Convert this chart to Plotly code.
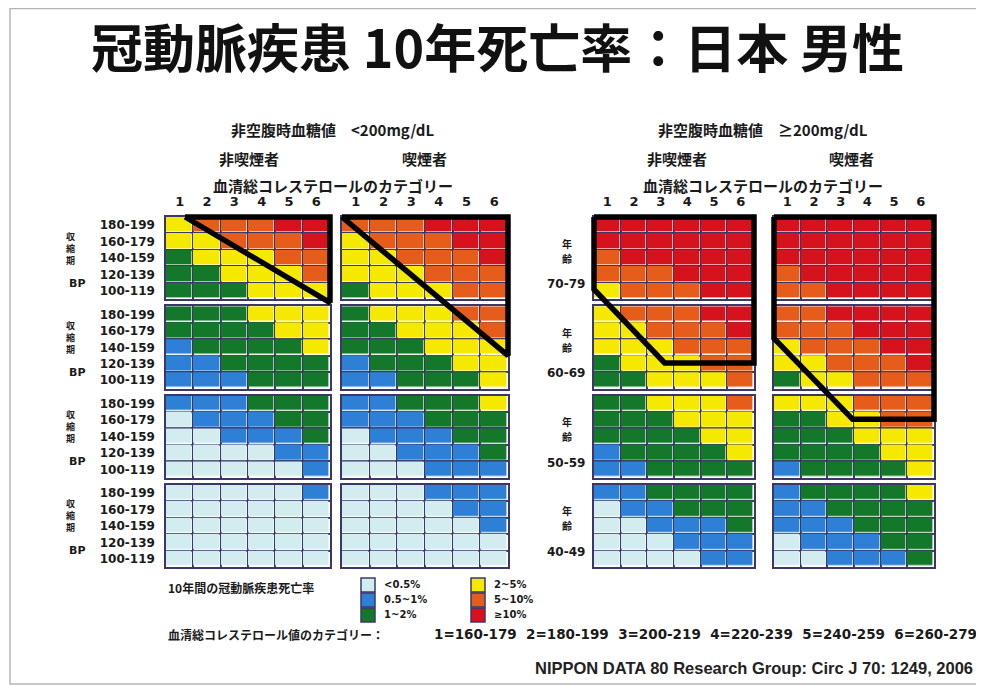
import plotly.graph_objects as go

# page offset: the browser body adds an 8px margin around the figure
OFF = 8
FIG_W, FIG_H = 976, 678

# ---------------- data ----------------
chol_cats = ["1", "2", "3", "4", "5", "6"]
chol_ranges = ["160-179", "180-199", "200-219", "220-239", "240-259", "260-279"]
bp_labels = ["180-199", "160-179", "140-159", "120-139", "100-119"]
age_labels = ["70-79", "60-69", "50-59", "40-49"]
risk_labels = ["<0.5%", "0.5~1%", "1~2%", "2~5%", "5~10%", "≥10%"]
risk_colors = ["#d3ecf0", "#2e7fd6", "#14782b", "#f6e900", "#e65c1b", "#d6131d"]

# risk category (0..5) per cell; rows = BP 180-199 .. 100-119, cols = cholesterol cat 1..6
# glucose <200 mg/dL, non-smoker
ns_lo_70 = [[3, 4, 4, 4, 5, 5], [3, 3, 4, 4, 4, 5], [2, 3, 3, 3, 4, 4], [2, 2, 3, 3, 3, 4], [2, 2, 2, 3, 3, 3]]
ns_lo_60 = [[2, 2, 2, 3, 3, 3], [2, 2, 2, 2, 3, 3], [1, 2, 2, 2, 2, 3], [1, 1, 2, 2, 2, 2], [1, 1, 1, 2, 2, 2]]
ns_lo_50 = [[1, 1, 1, 2, 2, 2], [0, 1, 1, 1, 2, 2], [0, 0, 1, 1, 1, 2], [0, 0, 0, 0, 1, 1], [0, 0, 0, 0, 0, 1]]
ns_lo_40 = [[0, 0, 0, 0, 0, 1], [0, 0, 0, 0, 0, 0], [0, 0, 0, 0, 0, 0], [0, 0, 0, 0, 0, 0], [0, 0, 0, 0, 0, 0]]
# glucose <200 mg/dL, smoker
sm_lo_70 = [[4, 4, 4, 5, 5, 5], [3, 4, 4, 4, 5, 5], [3, 3, 4, 4, 4, 5], [3, 3, 3, 4, 4, 4], [2, 3, 3, 3, 4, 4]]
sm_lo_60 = [[2, 3, 3, 3, 4, 4], [2, 2, 3, 3, 3, 4], [2, 2, 2, 3, 3, 3], [1, 2, 2, 2, 3, 3], [1, 1, 2, 2, 2, 3]]
sm_lo_50 = [[1, 1, 2, 2, 2, 3], [1, 1, 1, 2, 2, 2], [0, 1, 1, 1, 2, 2], [0, 0, 1, 1, 1, 2], [0, 0, 0, 1, 1, 1]]
sm_lo_40 = [[0, 0, 0, 1, 1, 1], [0, 0, 0, 0, 1, 1], [0, 0, 0, 0, 0, 1], [0, 0, 0, 0, 0, 0], [0, 0, 0, 0, 0, 0]]
# glucose >=200 mg/dL, non-smoker
ns_hi_70 = [[5, 5, 5, 5, 5, 5], [5, 5, 5, 5, 5, 5], [4, 5, 5, 5, 5, 5], [4, 4, 4, 5, 5, 5], [3, 4, 4, 4, 5, 5]]
ns_hi_60 = [[3, 4, 4, 4, 5, 5], [3, 3, 4, 4, 4, 5], [3, 3, 3, 4, 4, 4], [2, 3, 3, 3, 4, 4], [2, 2, 3, 3, 3, 4]]
ns_hi_50 = [[2, 2, 3, 3, 3, 4], [2, 2, 2, 3, 3, 3], [2, 2, 2, 2, 3, 3], [1, 2, 2, 2, 2, 3], [1, 1, 2, 2, 2, 2]]
ns_hi_40 = [[1, 1, 2, 2, 2, 2], [0, 1, 1, 2, 2, 2], [0, 0, 1, 1, 1, 2], [0, 0, 0, 1, 1, 1], [0, 0, 0, 0, 1, 1]]
# glucose >=200 mg/dL, smoker
sm_hi_70 = [[5, 5, 5, 5, 5, 5], [5, 5, 5, 5, 5, 5], [5, 5, 5, 5, 5, 5], [4, 5, 5, 5, 5, 5], [4, 4, 5, 5, 5, 5]]
sm_hi_60 = [[4, 4, 5, 5, 5, 5], [4, 4, 4, 5, 5, 5], [3, 4, 4, 4, 5, 5], [3, 3, 4, 4, 4, 5], [2, 3, 3, 4, 4, 4]]
sm_hi_50 = [[3, 3, 3, 4, 4, 4], [2, 2, 3, 3, 4, 4], [2, 2, 2, 3, 3, 3], [2, 2, 2, 2, 3, 3], [1, 2, 2, 2, 2, 3]]
sm_hi_40 = [[1, 2, 2, 2, 2, 3], [1, 1, 2, 2, 2, 2], [1, 1, 1, 2, 2, 2], [0, 1, 1, 1, 2, 2], [0, 0, 1, 1, 1, 2]]

# thick outline of the high-risk zone, vertices as (column edge 0-6, age block 0-3, row edge 0-5)
outline_ns_lo = [(0.7, 0, 0), (6, 0, 0), (6, 0, 5.2), (0.7, 0, 0)]
outline_sm_lo = [(0, 0, 0), (6, 0, 0), (6, 1, 3.0), (0, 0, 0)]
outline_ns_hi = [(0, 0, 0), (6, 0, 0), (6, 1, 3.45), (2.65, 1, 3.45), (0, 0, 4.4), (0, 0, 0)]
outline_sm_hi = [(0, 0, 0), (6, 0, 0), (6, 2, 1.45), (2.95, 2, 1.45), (0, 1, 1.95), (0, 0, 0)]

# ---------------- layout helpers ----------------
panels = [
    [ns_lo_70, ns_lo_60, ns_lo_50, ns_lo_40],
    [sm_lo_70, sm_lo_60, sm_lo_50, sm_lo_40],
    [ns_hi_70, ns_hi_60, ns_hi_50, ns_hi_40],
    [sm_hi_70, sm_hi_60, sm_hi_50, sm_hi_40],
]
outlines = [outline_ns_lo, outline_sm_lo, outline_ns_hi, outline_sm_hi]

PANEL_L = [166, 342, 594, 774]
PANEL_R = [330, 508, 754, 934]
BLOCK_TOP0 = 217
BLOCK_H = 82.25
BLOCK_GAP = 7
ROW_PX = BLOCK_H / 5
GAP_U = BLOCK_GAP / ROW_PX

NAVY = "#3b3868"
TXT = "#1a1a1a"
CJK = "Noto Sans CJK JP"
NUMF = "DejaVu Sans"


def fx(p):
    return (p - OFF) / FIG_W


def fy(p):
    return 1 - (p - OFF) / FIG_H


def block_top(b):
    return BLOCK_TOP0 + b * (BLOCK_H + BLOCK_GAP)


colorscale = []
for i, c in enumerate(risk_colors):
    colorscale.append([i / 6, c])
    colorscale.append([(i + 1) / 6, c])

fig = go.Figure()
layout = dict(
    width=FIG_W, height=FIG_H,
    margin=dict(l=0, r=0, t=0, b=0),
    paper_bgcolor="white", plot_bgcolor="rgba(0,0,0,0)",
    showlegend=False,
)

cols = list(range(1, 7))
rows = list(range(5))

idx = 0
for p in range(4):
    for b in range(4):
        idx += 1
        fig.add_trace(go.Heatmap(
            z=panels[p][b], x=cols, y=rows,
            colorscale=colorscale, zmin=-0.5, zmax=5.5, showscale=False,
            xgap=1.6, ygap=1.6, hoverinfo="skip",
            xaxis=f"x{idx}", yaxis=f"y{idx}",
        ))
        top = block_top(b)
        layout[f"xaxis{idx}"] = dict(
            domain=[fx(PANEL_L[p]), fx(PANEL_R[p])], anchor=f"y{idx}",
            range=[0.5, 6.5], showgrid=False, zeroline=False,
            showline=True, mirror=True, linecolor=NAVY, linewidth=1.5,
            minor=dict(tickmode="array", tickvals=[c + 0.5 for c in range(7)],
                       showgrid=True, gridcolor=NAVY, gridwidth=1.6, ticks=""),
            tickmode="array", tickvals=cols, ticktext=[f"<b>{c}</b>" for c in chol_cats],
            showticklabels=(b == 0), side="top", ticks="", ticklabelstandoff=4,
            tickfont=dict(family=NUMF, size=13, color=TXT), fixedrange=True,
        )
        layout[f"yaxis{idx}"] = dict(
            domain=[fy(top + BLOCK_H), fy(top)], anchor=f"x{idx}",
            range=[4.5, -0.5], showgrid=False, zeroline=False,
            showline=True, mirror=True, linecolor=NAVY, linewidth=1.5,
            minor=dict(tickmode="array", tickvals=[r + 0.5 for r in range(-1, 5)],
                       showgrid=True, gridcolor=NAVY, gridwidth=1.6, ticks=""),
            tickmode="array", tickvals=rows, ticktext=[f"<b>{t}</b>" for t in bp_labels],
            showticklabels=(p == 0), ticks="", ticklabelstandoff=7,
            tickfont=dict(family=NUMF, size=12, color=TXT), fixedrange=True,
        )

# thick outlines on a panel-wide overlay axis (cell units incl. block gaps)
total_u = 3 * (5 + GAP_U) + 5
for p in range(4):
    k = 17 + p
    colw = (PANEL_R[p] - PANEL_L[p]) / 6
    xs = [c + 0.5 for c, _, _ in outlines[p]]
    ys = [bb * (5 + GAP_U) + r - 0.5 for _, bb, r in outlines[p]]
    fig.add_trace(go.Scatter(
        x=xs, y=ys, mode="lines", line=dict(color="black", width=5.5),
        hoverinfo="skip", xaxis=f"x{k}", yaxis=f"y{k}",
    ))
    layout[f"xaxis{k}"] = dict(
        domain=[fx(PANEL_L[p] - colw), fx(PANEL_R[p] + colw)], anchor=f"y{k}",
        range=[-0.5, 7.5], visible=False, fixedrange=True,
    )
    layout[f"yaxis{k}"] = dict(
        domain=[fy(BLOCK_TOP0 + total_u * ROW_PX + ROW_PX), fy(BLOCK_TOP0 - ROW_PX)],
        anchor=f"x{k}", range=[total_u - 0.5 + 1, -1.5], visible=False, fixedrange=True,
    )

# legend swatches
fig.add_trace(go.Scatter(
    x=[i // 3 for i in range(len(risk_labels))],
    y=[i % 3 for i in range(len(risk_labels))],
    mode="markers+text",
    marker=dict(symbol="square", size=14, color=risk_colors, line=dict(color=NAVY, width=1.5)),
    text=["\u00a0\u00a0" + f"<b>{t}</b>" for t in risk_labels], textposition="middle right",
    textfont=dict(family=NUMF, size=10, color=TXT), cliponaxis=False,
    hoverinfo="skip", xaxis="x21", yaxis="y21",
))
layout["xaxis21"] = dict(domain=[fx(346), fx(566)], anchor="y21", range=[-0.2, 1.8],
                         visible=False, fixedrange=True)
layout["yaxis21"] = dict(domain=[fy(622.5), fy(577.5)], anchor="x21", range=[2.5, -0.5],
                         visible=False, fixedrange=True)

# ---------------- text ----------------
ann = []


def add_text(text, x, y, size, family=CJK, xanchor="center", color=TXT):
    ann.append(dict(text=text, x=fx(x), y=fy(y), xref="paper", yref="paper",
                    xanchor=xanchor, yanchor="middle", showarrow=False,
                    font=dict(family=family, size=size, color=color)))


add_text("<b>冠動脈疾患 10年死亡率：日本 男性</b>", 497, 45, 52, color="#111")

for cx, glu in [(333, "&lt;200mg/dL"), (763, "≥200mg/dL")]:
    add_text(f"<b>非空腹時血糖値　{glu}</b>", cx, 130, 15)
    add_text("<b>血清総コレステロールのカテゴリー</b>", cx, 185, 15)
add_text("<b>非喫煙者</b>", 249, 158, 15)
add_text("<b>喫煙者</b>", 424, 158, 15)
add_text("<b>非喫煙者</b>", 677, 158, 15)
add_text("<b>喫煙者</b>", 851, 158, 15)

for b, age in enumerate(age_labels):
    top = block_top(b)
    for j, ch in enumerate("収縮期"):
        add_text(f"<b>{ch}</b>", 70, top + 19 + 12 * j, 9)
    add_text("<b>BP</b>", 77, top + 66, 11, family=NUMF)
    for j, ch in enumerate("年齢"):
        add_text(f"<b>{ch}</b>", 567, top + 26 + 15 * j, 10)
    add_text(f"<b>{age}</b>", 566, top + 67, 12, family=NUMF)

add_text("<b>10年間の冠動脈疾患死亡率</b>", 166, 587, 12, xanchor="left")
add_text("<b>血清総コレステロール値のカテゴリー：</b>", 166, 634, 12, xanchor="left")
chol_text = "\u00a0\u00a0".join(f"{c}={r}" for c, r in zip(chol_cats, chol_ranges))
add_text(f"<b>{chol_text}</b>", 432, 634, 13.5, family=NUMF, xanchor="left")
add_text("<b>NIPPON DATA 80 Research Group: Circ J 70: 1249, 2006</b>", 975, 668, 16.5,
         family="Liberation Sans", xanchor="right", color="#222")

layout["annotations"] = ann
layout["shapes"] = [dict(type="rect", xref="paper", yref="paper",
                         x0=fx(10), x1=fx(981), y0=fy(684), y1=fy(8.5),
                         line=dict(color="#b5b5b5", width=1.5))]

fig.update_layout(**layout)
fig.write_html("out.html")
